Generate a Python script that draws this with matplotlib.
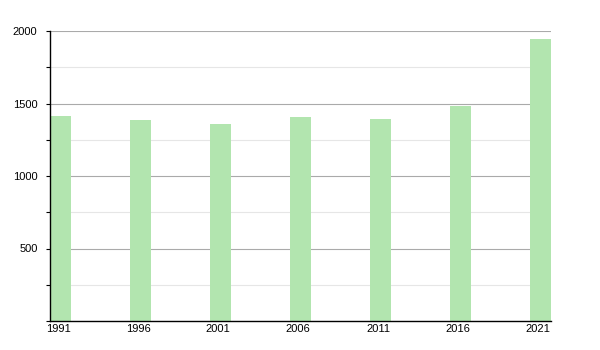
import matplotlib
matplotlib.use("Agg")
import matplotlib.pyplot as plt
from matplotlib.ticker import MultipleLocator

years = [1991, 1996, 2001, 2006, 2011, 2016, 2021]
population = [1413, 1385, 1358, 1406, 1392, 1482, 1948]
yticks = [500, 1000, 1500, 2000]

plt.rcParams['font.family'] = ['Liberation Sans', 'DejaVu Sans']
fig = plt.figure(figsize=(6, 3.5), dpi=100)
ax = fig.add_axes([50/600, 29/350, 501/600, 290/350])

ax.bar(years, population, width=1.3, align='edge', color='#b2e5af', zorder=2)
ax.set_xlim(1991, 2022.3)
ax.set_ylim(0, 2000)
ax.set_xticks([y + 0.5 for y in years])
ax.set_xticklabels([str(y) for y in years], fontsize=8)
ax.set_yticks(yticks)
ax.set_yticklabels([str(v) for v in yticks], fontsize=8)
ax.yaxis.set_minor_locator(MultipleLocator(250))
ax.grid(axis='y', which='major', color='#aaaaaa', linewidth=0.8, zorder=0)
ax.grid(axis='y', which='minor', color='#e6e6e6', linewidth=0.8, zorder=0)
ax.tick_params(axis='x', length=0, pad=2)
ax.tick_params(axis='y', which='major', length=3, width=0.8, pad=6)
ax.tick_params(axis='y', which='minor', length=3, width=0.8)
for s in ['top', 'right']:
    ax.spines[s].set_visible(False)
for s in ['left', 'bottom']:
    ax.spines[s].set_linewidth(1.0)
    ax.spines[s].set_color('black')

fig.savefig('out.png', dpi=100)
